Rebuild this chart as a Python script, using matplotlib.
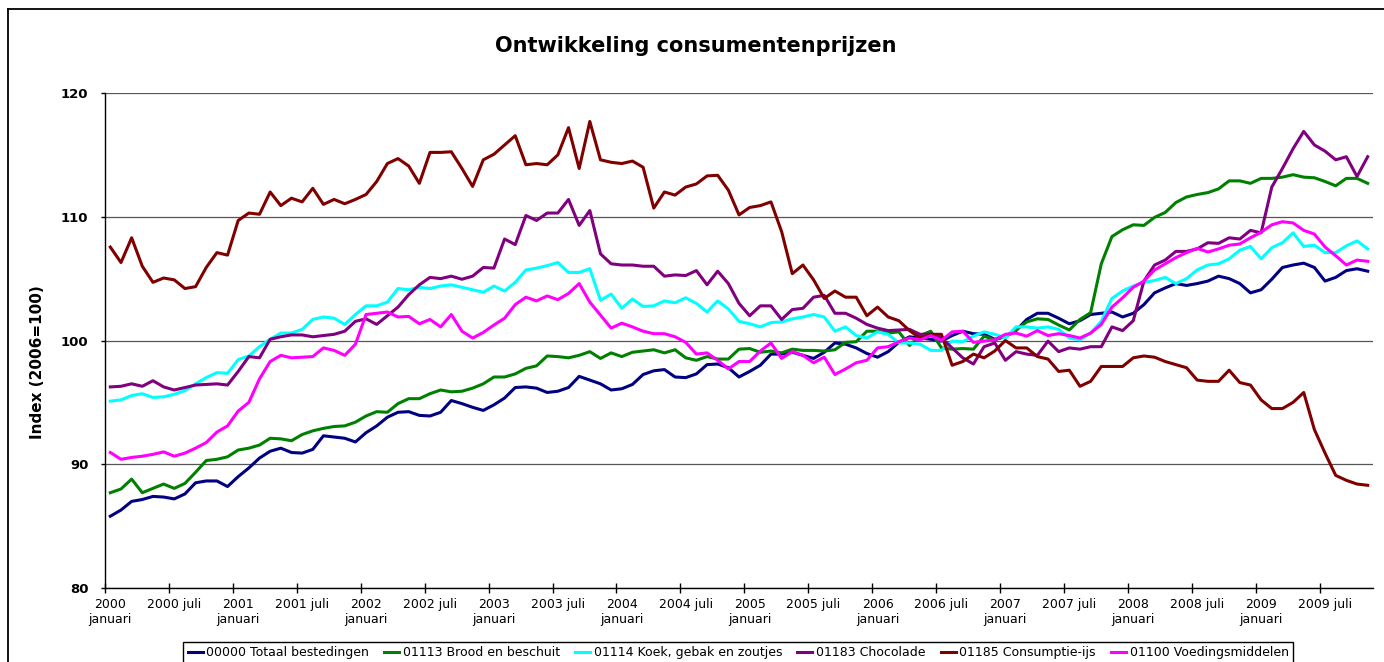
import matplotlib
matplotlib.use("Agg")
import matplotlib.pyplot as plt
import numpy as np
import pandas as pd
from matplotlib.lines import Line2D

# maandelijkse indexcijfers, jan 2000 - nov 2009 (2006=100)
maanden = pd.period_range("2000-01", "2009-11", freq="M")

totaal = [85.8, 86.3, 87.0, 87.15, 87.4, 87.35, 87.2, 87.6, 88.5, 88.65, 88.65, 88.2, 89.0, 89.7, 90.5, 91.05, 91.3, 90.95, 90.9, 91.2, 92.3,
          92.2, 92.1, 91.8, 92.55, 93.1, 93.8, 94.2, 94.25, 93.95, 93.9, 94.2, 95.15, 94.9, 94.6, 94.35, 94.8, 95.35, 96.2, 96.25, 96.15,
          95.8, 95.9, 96.2, 97.1, 96.8, 96.5, 96.0, 96.1, 96.45, 97.25, 97.55, 97.65, 97.05, 97.0, 97.3, 98.05, 98.1, 97.8, 97.05, 97.5,
          98.0, 98.9, 98.9, 99.05, 98.8, 98.55, 99.05, 99.8, 99.7, 99.4, 98.95, 98.65, 99.1, 99.85, 100.3, 100.2, 100.1, 99.95, 100.4, 100.75,
          100.55, 100.5, 100.1, 100.3, 100.8, 101.7, 102.2, 102.2, 101.8, 101.35, 101.6, 102.1, 102.2, 102.3, 101.9, 102.2, 102.9, 103.85, 104.25, 104.6, 104.45,
          104.6, 104.8, 105.2, 105.0, 104.6, 103.85, 104.1, 104.95, 105.9, 106.1, 106.25, 105.9, 104.8, 105.1, 105.65, 105.8, 105.6]

brood = [87.7, 88.0, 88.8, 87.7, 88.05, 88.4, 88.05, 88.45, 89.35, 90.3, 90.4, 90.6, 91.15, 91.3, 91.55, 92.1, 92.05, 91.9, 92.4, 92.7, 92.9,
         93.05, 93.1, 93.4, 93.9, 94.25, 94.2, 94.9, 95.3, 95.3, 95.7, 96.0, 95.85, 95.9, 96.15, 96.5, 97.05, 97.05, 97.3, 97.75, 97.95,
         98.75, 98.7, 98.6, 98.8, 99.1, 98.55, 99.0, 98.7, 99.05, 99.15, 99.25, 99.0, 99.25, 98.6, 98.4, 98.7, 98.5, 98.5, 99.3, 99.35,
         99.05, 99.15, 99.0, 99.3, 99.2, 99.2, 99.15, 99.25, 99.85, 99.9, 100.75, 100.75, 100.6, 100.7, 99.6, 100.4, 100.75, 99.4, 99.3, 99.35,
         99.3, 100.35, 100.05, 100.35, 100.85, 101.5, 101.75, 101.7, 101.25, 100.85, 101.7, 102.25, 106.2, 108.4, 108.95, 109.35, 109.3, 109.95, 110.35, 111.15, 111.6,
         111.8, 111.95, 112.25, 112.9, 112.9, 112.7, 113.1, 113.1, 113.2, 113.4, 113.2, 113.15, 112.85, 112.5, 113.1, 113.1, 112.7]

koek = [95.1, 95.2, 95.55, 95.7, 95.4, 95.45, 95.65, 95.95, 96.5, 97.0, 97.4, 97.35, 98.45, 98.75, 99.5, 100.1, 100.6, 100.6, 100.9, 101.7, 101.9,
        101.8, 101.3, 102.1, 102.8, 102.8, 103.1, 104.2, 104.1, 104.3, 104.2, 104.4, 104.5, 104.3, 104.1, 103.9, 104.4, 104.0, 104.7, 105.7, 105.85,
        106.05, 106.3, 105.5, 105.5, 105.8, 103.25, 103.75, 102.6, 103.35, 102.75, 102.8, 103.2, 103.05, 103.45, 103.0, 102.3, 103.2, 102.55, 101.55, 101.35,
        101.1, 101.45, 101.5, 101.75, 101.9, 102.1, 101.9, 100.75, 101.1, 100.4, 100.2, 100.7, 100.5, 99.8, 99.8, 99.7, 99.2, 99.2, 99.95, 99.9,
        100.35, 100.7, 100.5, 100.2, 101.1, 101.1, 101.0, 101.1, 100.9, 100.2, 100.05, 100.6, 101.55, 103.4, 104.0, 104.4, 104.7, 104.85, 105.1, 104.6, 105.0,
        105.7, 106.1, 106.2, 106.6, 107.3, 107.6, 106.6, 107.5, 107.9, 108.7, 107.6, 107.7, 107.1, 107.1, 107.65, 108.05, 107.4]

chocolade = [96.25, 96.3, 96.5, 96.3, 96.75, 96.25, 96.0, 96.2, 96.4, 96.45, 96.5, 96.4, 97.5, 98.7, 98.6, 100.1, 100.3, 100.45, 100.45, 100.3, 100.4,
             100.5, 100.75, 101.55, 101.75, 101.3, 102.0, 102.7, 103.7, 104.5, 105.1, 105.0, 105.2, 104.95, 105.2, 105.9, 105.85, 108.2, 107.75, 110.1, 109.7,
             110.3, 110.3, 111.4, 109.3, 110.5, 107.0, 106.2, 106.1, 106.1, 106.0, 106.0, 105.2, 105.3, 105.25, 105.65, 104.5, 105.6, 104.6, 103.0, 102.0,
             102.8, 102.8, 101.7, 102.5, 102.6, 103.5, 103.65, 102.2, 102.2, 101.8, 101.3, 101.0, 100.8, 100.85, 100.9, 100.5, 100.5, 100.2, 99.4, 98.6,
             98.1, 99.5, 99.8, 98.4, 99.1, 98.9, 98.8, 99.95, 99.1, 99.4, 99.3, 99.5, 99.5, 101.1, 100.8, 101.6, 104.8, 106.1, 106.5, 107.2, 107.2,
             107.4, 107.9, 107.85, 108.3, 108.2, 108.9, 108.7, 112.4, 113.9, 115.5, 116.9, 115.8, 115.3, 114.6, 114.85, 113.25, 114.85]

ijs = [107.55, 106.3, 108.3, 106.0, 104.7, 105.05, 104.9, 104.2, 104.35, 105.9, 107.1, 106.9, 109.7, 110.3, 110.2, 112.0, 110.9, 111.5, 111.2, 112.3, 111.0,
       111.4, 111.05, 111.4, 111.8, 112.85, 114.3, 114.7, 114.1, 112.7, 115.2, 115.2, 115.25, 113.9, 112.45, 114.6, 115.05, 115.8, 116.55, 114.2, 114.3,
       114.2, 115.0, 117.2, 113.9, 117.7, 114.6, 114.4, 114.3, 114.5, 114.0, 110.7, 112.0, 111.75, 112.4, 112.65, 113.3, 113.35, 112.15, 110.15, 110.75,
       110.9, 111.2, 108.8, 105.4, 106.1, 104.9, 103.4, 104.0, 103.5, 103.5, 102.0, 102.7, 101.9, 101.6, 100.8, 100.2, 100.5, 100.5, 98.0, 98.3,
       98.9, 98.6, 99.15, 100.0, 99.4, 99.4, 98.7, 98.5, 97.5, 97.6, 96.3, 96.7, 97.9, 97.9, 97.9, 98.6, 98.75, 98.65, 98.3, 98.05, 97.8,
       96.8, 96.7, 96.7, 97.6, 96.6, 96.4, 95.2, 94.5, 94.5, 95.0, 95.8, 92.8, 90.9, 89.1, 88.7, 88.4, 88.3]

voeding = [90.95, 90.4, 90.55, 90.65, 90.8, 91.0, 90.65, 90.9, 91.3, 91.75, 92.6, 93.1, 94.3, 95.0, 96.9, 98.3, 98.8, 98.6, 98.65, 98.7, 99.4,
           99.2, 98.8, 99.7, 102.1, 102.2, 102.3, 101.9, 101.95, 101.35, 101.7, 101.1, 102.1, 100.75, 100.2, 100.65, 101.25, 101.8, 102.9, 103.5, 103.2,
           103.6, 103.3, 103.8, 104.6, 103.1, 102.05, 101.0, 101.4, 101.1, 100.75, 100.55, 100.55, 100.3, 99.85, 98.9, 99.0, 98.4, 97.7, 98.3, 98.3,
           99.15, 99.8, 98.55, 99.1, 98.8, 98.2, 98.65, 97.25, 97.7, 98.2, 98.4, 99.4, 99.5, 99.9, 100.2, 100.05, 100.4, 100.0, 100.7, 100.75,
           99.85, 99.95, 100.05, 100.5, 100.6, 100.35, 100.8, 100.4, 100.55, 100.4, 100.2, 100.6, 101.3, 102.7, 103.45, 104.3, 104.8, 105.7, 106.2, 106.7, 107.1,
           107.45, 107.15, 107.4, 107.7, 107.8, 108.3, 108.75, 109.35, 109.6, 109.5, 108.9, 108.6, 107.55, 106.85, 106.1, 106.5, 106.4]

reeksen = [
    ("00000 Totaal bestedingen", totaal, "#000080"),
    ("01113 Brood en beschuit", brood, "#008000"),
    ("01114 Koek, gebak en zoutjes", koek, "#00FFFF"),
    ("01183 Chocolade", chocolade, "#800080"),
    ("01185 Consumptie-ijs", ijs, "#800000"),
    ("01100 Voedingsmiddelen", voeding, "#FF00FF"),
]

n = len(maanden)
x = np.arange(n)

W, H = 1384, 662
fig = plt.figure(figsize=(W / 100, H / 100), dpi=100)
ax = fig.add_axes([105 / W, 1 - 588 / H, 1268 / W, 495 / H])

for naam, waarden, kleur in reeksen:
    ax.plot(x, waarden, color=kleur, lw=2.2, label=naam, solid_joinstyle="round")

ax.set_xlim(-0.5, n - 0.5)
ax.set_ylim(80, 120)
ax.set_yticks([80, 90, 100, 110, 120])
ax.yaxis.grid(True, color="#555555", lw=0.9)
ax.set_axisbelow(True)
for s in ["top", "right"]:
    ax.spines[s].set_visible(False)
for s in ["left", "bottom"]:
    ax.spines[s].set_color("black")
    ax.spines[s].set_linewidth(1.0)

ax.tick_params(axis="y", direction="out", length=3, width=1, pad=9, labelsize=9.5)
for lab in ax.get_yticklabels():
    lab.set_fontweight("bold")

# tick marks between categories, labels centred on jan / juli
pos = np.arange(0, n, 6)
ax.set_xticks(pos - 0.5)
ax.set_xticklabels([])
ax.tick_params(axis="x", which="major", direction="inout", length=6.5, width=1)
labels = []
for p in pos:
    m = maanden[p]
    if m.month == 1:
        labels.append(f"{m.year}\njanuari")
    else:
        labels.append(f"{m.year} juli")
ax.set_xticks(pos, minor=True)
ax.set_xticklabels(labels, minor=True, fontsize=9)
ax.tick_params(axis="x", which="minor", length=0, pad=7)

fig.text(0.503, 1 - 46 / H, "Ontwikkeling consumentenprijzen", ha="center", va="center",
         fontsize=15, fontweight="bold")
fig.text(38 / W, 1 - 362 / H, "Index (2006=100)", rotation=90, ha="center", va="center",
         fontsize=11, fontweight="bold")

leg = fig.legend(loc="upper center", bbox_to_anchor=(738 / W, 1 - 642 / H), ncol=6,
                 fontsize=9, handlelength=1.2, handletextpad=0.3, columnspacing=1.2,
                 borderpad=0.35, borderaxespad=0, fancybox=False, frameon=True,
                 edgecolor="black", framealpha=1)
leg.get_frame().set_linewidth(1.0)

# chart area border
fig.add_artist(Line2D([8 / W, 8 / W], [0, 1 - 9 / H], color="black", lw=1.3, transform=fig.transFigure))
fig.add_artist(Line2D([8 / W, 1], [1 - 9 / H, 1 - 9 / H], color="black", lw=1.3, transform=fig.transFigure))

fig.savefig("out.png", dpi=100)
